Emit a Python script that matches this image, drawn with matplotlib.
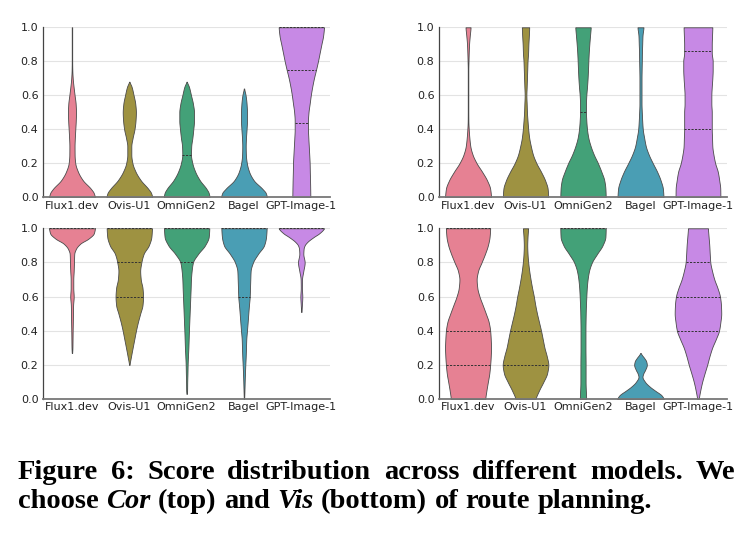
import numpy as np
import matplotlib
matplotlib.use("Agg")
import matplotlib.pyplot as plt
import seaborn as sns

# ---------------- data ----------------
MODELS = ["Flux1.dev", "Ovis-U1", "OmniGen2", "Bagel", "GPT-Image-1"]
Y_TICKS = [0.0, 0.2, 0.4, 0.6, 0.8, 1.0]

# density profiles: [score, half-width (category units)]
COR_LEFT = {
    "Flux1.dev": [[0, .40], [.025, .38], [.05, .33], [.1, .19], [.15, .105], [.2, .058], [.25, .046], [.3, .045],
                  [.35, .05], [.4, .058], [.45, .066], [.5, .07], [.55, .064], [.6, .046], [.65, .028], [.7, .013],
                  [.75, .006], [.8, .004], [1.0, .004]],
    "Ovis-U1": [[0, .40], [.025, .38], [.05, .33], [.1, .2], [.15, .11], [.2, .055], [.25, .035], [.3, .035],
                [.35, .058], [.4, .09], [.45, .108], [.5, .115], [.55, .104], [.6, .075], [.65, .04], [.68, .005]],
    "OmniGen2": [[0, .40], [.025, .385], [.05, .345], [.1, .23], [.15, .15], [.2, .1], [.25, .076], [.3, .08],
                 [.35, .1], [.4, .116], [.45, .128], [.5, .128], [.55, .11], [.6, .076], [.65, .04], [.68, .005]],
    "Bagel": [[0, .40], [.025, .38], [.05, .32], [.1, .17], [.15, .09], [.2, .05], [.25, .033], [.3, .03],
              [.35, .035], [.4, .045], [.45, .052], [.5, .052], [.55, .045], [.6, .028], [.64, .004]],
    "GPT-Image-1": [[0, .157], [.05, .155], [.1, .152], [.15, .148], [.2, .145], [.25, .138], [.3, .13],
                    [.35, .122], [.4, .116], [.45, .116], [.5, .125], [.55, .145], [.6, .165], [.65, .19],
                    [.7, .22], [.75, .256], [.8, .29], [.85, .32], [.9, .35], [.95, .38], [1.0, .395]],
}
COR_RIGHT = {
    "Flux1.dev": [[0, .40], [.05, .385], [.1, .33], [.15, .245], [.2, .15], [.25, .08], [.3, .04], [.35, .023],
                  [.4, .012], [.45, .006], [.5, .005], [.75, .005], [.8, .008], [.85, .012], [.9, .018],
                  [.95, .03], [1.0, .044]],
    "Ovis-U1": [[0, .395], [.05, .385], [.1, .34], [.15, .27], [.2, .19], [.25, .13], [.3, .093], [.35, .064],
                [.4, .047], [.45, .035], [.5, .025], [.55, .02], [.6, .015], [.65, .02], [.7, .025], [.75, .03],
                [.8, .035], [.85, .045], [.9, .05], [.95, .058], [1.0, .064]],
    "OmniGen2": [[0, .395], [.05, .39], [.1, .37], [.15, .32], [.2, .26], [.25, .19], [.3, .134], [.35, .093],
                 [.4, .07], [.45, .058], [.5, .052], [.55, .052], [.6, .058], [.65, .07], [.7, .08], [.75, .087],
                 [.8, .093], [.85, .1], [.9, .11], [.95, .122], [1.0, .134]],
    "Bagel": [[0, .40], [.05, .39], [.1, .35], [.15, .29], [.2, .215], [.25, .145], [.3, .093], [.35, .064],
              [.4, .04], [.45, .03], [.5, .023], [.55, .018], [.7, .018], [.75, .02], [.8, .023], [.85, .025],
              [.9, .03], [.95, .035], [1.0, .052]],
    "GPT-Image-1": [[0, .39], [.05, .388], [.1, .37], [.15, .345], [.2, .3], [.25, .27], [.3, .25], [.35, .245],
                    [.4, .24], [.45, .24], [.5, .24], [.55, .233], [.6, .233], [.65, .24], [.7, .25], [.75, .256],
                    [.8, .256], [.85, .24], [.9, .24], [.95, .245], [1.0, .25]],
}
VIS_LEFT = {
    "Flux1.dev": [[.27, .004], [.3, .008], [.35, .01], [.4, .012], [.45, .015], [.5, .017], [.55, .02],
                  [.6, .03], [.65, .023], [.7, .023], [.75, .03], [.8, .035], [.85, .04], [.88, .07],
                  [.91, .145], [.94, .29], [.97, .38], [1.0, .40]],
    "Ovis-U1": [[.2, .005], [.25, .03], [.3, .058], [.35, .087], [.4, .116], [.45, .15], [.5, .19], [.55, .23],
                [.6, .24], [.65, .23], [.7, .2], [.75, .19], [.8, .21], [.85, .25], [.9, .34], [.95, .385],
                [1.0, .395]],
    "OmniGen2": [[.03, .004], [.05, .008], [.1, .01], [.15, .014], [.2, .017], [.25, .023], [.3, .03],
                 [.35, .035], [.4, .04], [.45, .046], [.5, .052], [.55, .058], [.6, .064], [.65, .07],
                 [.7, .075], [.75, .087], [.8, .11], [.85, .2], [.9, .32], [.95, .385], [1.0, .395]],
    "Bagel": [[0, .004], [.05, .008], [.1, .012], [.15, .017], [.2, .023], [.25, .03], [.3, .035], [.35, .04],
              [.4, .052], [.45, .064], [.5, .075], [.55, .087], [.6, .1], [.65, .105], [.7, .11], [.75, .116],
              [.8, .157], [.85, .245], [.9, .35], [.95, .385], [1.0, .395]],
    "GPT-Image-1": [[.51, .004], [.55, .01], [.6, .017], [.65, .01], [.7, .012], [.75, .035], [.8, .058],
                    [.85, .035], [.88, .04], [.9, .058], [.92, .105], [.95, .22], [.97, .31], [1.0, .395]],
}
VIS_RIGHT = {
    "Flux1.dev": [[0, .30], [.05, .32], [.1, .345], [.15, .37], [.2, .385], [.25, .395], [.3, .40],
                  [.35, .395], [.4, .385], [.45, .36], [.5, .31], [.55, .255], [.6, .2], [.65, .162],
                  [.7, .15], [.75, .175], [.8, .235], [.85, .295], [.9, .345], [.95, .375], [1.0, .385]],
    "Ovis-U1": [[0, .175], [.05, .235], [.1, .31], [.15, .375], [.2, .397], [.25, .37], [.3, .33], [.35, .3],
                [.4, .27], [.45, .235], [.5, .2], [.55, .17], [.6, .145], [.65, .115], [.7, .088], [.75, .065],
                [.8, .047], [.85, .035], [.9, .03], [.95, .035], [1.0, .045]],
    "OmniGen2": [[0, .055], [.1, .045], [.2, .045], [.3, .043], [.4, .043], [.5, .047], [.6, .058], [.65, .066],
                 [.7, .08], [.75, .105], [.8, .155], [.85, .245], [.9, .34], [.95, .39], [1.0, .395]],
    "Bagel": [[0, .405], [.02, .37], [.05, .25], [.07, .17], [.1, .08], [.13, .035], [.15, .05], [.17, .08],
              [.2, .11], [.22, .1], [.24, .065], [.26, .02], [.27, .004]],
    "GPT-Image-1": [[0, .015], [.05, .04], [.1, .073], [.15, .115], [.2, .16], [.25, .2], [.3, .247],
                    [.35, .31], [.4, .366], [.45, .39], [.5, .405], [.55, .40], [.6, .383], [.65, .34],
                    [.7, .285], [.75, .245], [.8, .215], [.85, .205], [.9, .197], [.95, .185], [1.0, .174]],
}

# quartile / median lines
COR_LEFT_Q = {"OmniGen2": [0.25], "GPT-Image-1": [0.435, 0.75, 1.0]}
COR_RIGHT_Q = {"OmniGen2": [0.5], "GPT-Image-1": [0.40, 0.86]}
VIS_LEFT_Q = {"Flux1.dev": [1.0], "Ovis-U1": [0.6, 0.8, 1.0], "OmniGen2": [0.8, 1.0],
              "Bagel": [0.6, 1.0], "GPT-Image-1": [1.0]}
VIS_RIGHT_Q = {"Flux1.dev": [0.2, 0.4, 1.0], "Ovis-U1": [0.2, 0.4], "OmniGen2": [1.0],
               "GPT-Image-1": [0.4, 0.6, 0.8]}

CAPTION_1 = [("Figure", "normal"), ("6:", "normal"), ("Score", "normal"), ("distribution", "normal"),
             ("across", "normal"), ("different", "normal"), ("models.", "normal"), ("We", "normal")]
CAPTION_2 = [("choose", "normal"), ("Cor", "italic"), ("(top)", "normal"), ("and", "normal"),
             ("Vis", "italic"), ("(bottom)", "normal"), ("of", "normal"), ("route", "normal"),
             ("planning.", "normal")]

# ---------------- drawing ----------------
W, H = 753, 533
fig = plt.figure(figsize=(W / 100, H / 100), dpi=100)

pal = sns.color_palette("husl", len(MODELS))
COLORS = [sns.desaturate(c, 0.75) for c in pal]


def pchip(x, y, xn):
    x = np.asarray(x, float)
    y = np.asarray(y, float)
    h = np.diff(x)
    d = np.diff(y) / h
    m = np.zeros_like(y)
    for k in range(1, len(y) - 1):
        if d[k - 1] * d[k] > 0:
            w1 = 2 * h[k] + h[k - 1]
            w2 = h[k] + 2 * h[k - 1]
            m[k] = (w1 + w2) / (w1 / d[k - 1] + w2 / d[k])
    m[0] = d[0] * 0.5
    m[-1] = d[-1] * 0.5
    idx = np.clip(np.searchsorted(x, xn) - 1, 0, len(h) - 1)
    t = (xn - x[idx]) / h[idx]
    h00 = 2 * t**3 - 3 * t**2 + 1
    h10 = t**3 - 2 * t**2 + t
    h01 = -2 * t**3 + 3 * t**2
    h11 = t**3 - t**2
    return h00 * y[idx] + h10 * h[idx] * m[idx] + h01 * y[idx + 1] + h11 * h[idx] * m[idx + 1]


def px_axes(l, t, r, b):
    return fig.add_axes([l / W, 1 - b / H, (r - l) / W, (b - t) / H])


def draw_panel(ax, profiles, quarts):
    ax.set_xlim(-0.5, len(MODELS) - 0.5)
    ax.set_ylim(0, 1)
    ax.set_axisbelow(True)
    ax.yaxis.grid(True, color="#e3e3e3", lw=0.8)
    for i, name in enumerate(MODELS):
        prof = np.array(profiles[name], float)
        ys = np.linspace(prof[0, 0], prof[-1, 0], 300)
        ws = np.clip(pchip(prof[:, 0], prof[:, 1], ys), 0.002, None)
        ax.fill_betweenx(ys, i - ws, i + ws, facecolor=COLORS[i], edgecolor="#4a4a4a",
                         lw=0.6, zorder=2)
        for q in quarts.get(name, []):
            wq = float(pchip(prof[:, 0], prof[:, 1], np.array([q]))[0])
            ax.plot([i - wq, i + wq], [q, q], color="#333333", lw=0.7,
                    ls=(0, (2.2, 1.4)), zorder=3)
    ax.set_xticks(range(len(MODELS)))
    ax.set_xticklabels(MODELS)
    ax.set_yticks(Y_TICKS)
    ax.set_yticklabels([f"{v:.1f}" for v in Y_TICKS])
    ax.tick_params(axis="both", length=0, labelsize=8, colors="#222222")
    ax.tick_params(axis="x", pad=2.5)
    ax.tick_params(axis="y", pad=3.5)
    for s in ["top", "right"]:
        ax.spines[s].set_visible(False)
    ax.spines["left"].set_color("#444444")
    ax.spines["left"].set_linewidth(0.9)
    ax.spines["bottom"].set_color("#777777")
    ax.spines["bottom"].set_linewidth(1.3)


ax1 = px_axes(43.3, 27.3, 330, 197.3)
ax2 = px_axes(439.3, 27.3, 726.7, 197.3)
ax3 = px_axes(43.3, 228.3, 330, 399)
ax4 = px_axes(439.3, 228.3, 726.7, 399)
draw_panel(ax1, COR_LEFT, COR_LEFT_Q)
draw_panel(ax2, COR_RIGHT, COR_RIGHT_Q)
draw_panel(ax3, VIS_LEFT, VIS_LEFT_Q)
draw_panel(ax4, VIS_RIGHT, VIS_RIGHT_Q)

# ---------------- caption (justified words) ----------------
SERIF = "Liberation Serif"
FS = 20.5
renderer = fig.canvas.get_renderer()


def word_widths(words, fs):
    out = []
    for w, style in words:
        t = fig.text(0, 0, w, fontsize=fs, family=SERIF, weight="bold", style=style)
        out.append(t.get_window_extent(renderer).width)
        t.remove()
    return out


def place_line(words, x0, x1, baseline):
    widths = word_widths(words, FS)
    gap = (x1 - x0 - sum(widths)) / (len(words) - 1)
    x = x0
    for (w, style), wd in zip(words, widths):
        fig.text(x / W, 1 - baseline / H, w, fontsize=FS, family=SERIF, weight="bold",
                 style=style, color="black", va="baseline", ha="left")
        x += wd + gap


place_line(CAPTION_1, 18, 735, 479)
place_line(CAPTION_2, 18, 652, 508)

fig.savefig("out.png", dpi=100)
